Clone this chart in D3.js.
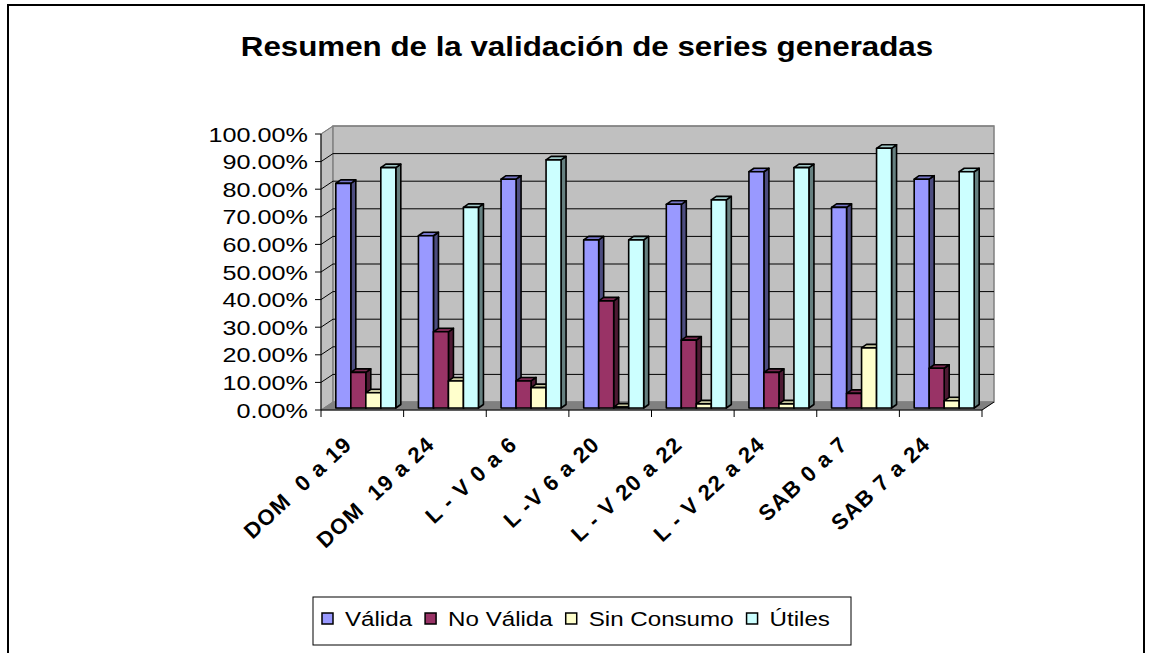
<!DOCTYPE html>
<html>
<head>
<meta charset="utf-8">
<script src="https://cdn.jsdelivr.net/npm/d3@7"></script>
<style>
  body { margin: 0; background: #fff; }
  text { font-family: "Liberation Sans", Arial, sans-serif; fill: #000; }
</style>
</head>
<body>
<svg id="drawarea" width="1153" height="653"></svg>
<script>
var categories = ["DOM  0 a 19", "DOM  19 a 24", "L - V 0 a 6", "L -V 6 a 20", "L - V 20 a 22", "L - V 22 a 24", "SAB 0 a 7", "SAB 7 a 24"];
var series = ["Válida", "No Válida", "Sin Consumo", "Útiles"];

// valores en %
var valida      = [81.4, 62.4, 82.9, 60.9, 73.8, 85.6, 72.7, 82.9];
var noValida    = [12.9, 27.6,  9.8, 38.8, 24.6, 12.9,  5.3, 14.4];
var sinConsumo  = [ 5.5,  9.8,  7.4,  0.3,  1.5,  1.5, 21.8,  2.6];
var utiles      = [87.1, 72.7, 89.9, 60.9, 75.4, 87.1, 94.1, 85.6];

var yTicks = [0, 10, 20, 30, 40, 50, 60, 70, 80, 90, 100];

var values = [valida, noValida, sinConsumo, utiles];
var fronts = ["#9999FF", "#993366", "#FFFFCC", "#CCFFFF"];
var tops   = ["#7575C8", "#7A2850", "#C8C8A0", "#A0C8C8"];
var sides  = ["#4D4D80", "#4D1A33", "#808066", "#668080"];

var svg = d3.select("#drawarea");
var sx = 1.2; // texto estirado

// marco
svg.append("rect").attr("x", 8).attr("y", 5).attr("width", 1136).attr("height", 700)
    .attr("fill", "none").attr("stroke", "#000").attr("stroke-width", 2);

// titulo
svg.append("text")
    .attr("transform", "translate(587,56) scale(1.16,1)")
    .attr("text-anchor", "middle")
    .style("font-size", "27px").style("font-weight", "bold")
    .text("Resumen de la validación de series generadas");

var x0 = d3.scaleBand().domain(categories).range([321, 982]);
var x1 = d3.scaleBand().domain(series).range([0, 60]);
var y = d3.scaleLinear().domain([0, 100]).range([410, 134]);
var D = {dx: 12, dy: -8};

var pLeft = 321, pRight = 982, pBottom = y(0), pTop = y(100);

// paredes
svg.append("polygon")
    .attr("points", [[pLeft, pBottom], [pLeft, pTop], [pLeft + D.dx, pTop + D.dy], [pLeft + D.dx, pBottom + D.dy]].join(" "))
    .attr("fill", "#C0C0C0").attr("stroke", "#808080");
svg.append("polygon")
    .attr("points", [[pLeft + D.dx, pTop + D.dy], [pRight + D.dx, pTop + D.dy], [pRight + D.dx, pBottom + D.dy], [pLeft + D.dx, pBottom + D.dy]].join(" "))
    .attr("fill", "#C0C0C0").attr("stroke", "#808080").attr("stroke-width", 1.5);
svg.append("polygon")
    .attr("points", [[pLeft, pBottom], [pRight, pBottom], [pRight + D.dx, pBottom + D.dy], [pLeft + D.dx, pBottom + D.dy]].join(" "))
    .attr("fill", "#808080").attr("stroke", "#808080");

// lineas de division
yTicks.forEach(function(t){
    if (t === 0) return;
    var yy = y(t);
    svg.append("polyline")
        .attr("points", [[pLeft, yy], [pLeft + D.dx, yy + D.dy], [pRight + D.dx, yy + D.dy]].join(" "))
        .attr("fill", "none").attr("stroke", t === 100 ? "#808080" : "#000").attr("stroke-width", 1);
});

// barras
var bar = {dx: 5, dy: -3.5};
var off = {dx: 3.5, dy: -2};
categories.forEach(function(c, ci){
    var pad = (x0.bandwidth() - 60) / 2;
    series.forEach(function(s, si){
        var v = values[si][ci];
        var xa = x0(c) + pad + x1(s) + off.dx;
        var xb = xa + x1.bandwidth();
        var yb = y(0) + off.dy;
        var yt = y(v) + off.dy;
        var g = svg.append("g").attr("stroke", "#000").attr("stroke-width", 1.6).attr("stroke-linejoin", "round");
        g.append("polygon")
            .attr("points", [[xb, yb], [xb, yt], [xb + bar.dx, yt + bar.dy], [xb + bar.dx, yb + bar.dy]].join(" "))
            .attr("fill", sides[si]);
        g.append("polygon")
            .attr("points", [[xa, yt], [xb, yt], [xb + bar.dx, yt + bar.dy], [xa + bar.dx, yt + bar.dy]].join(" "))
            .attr("fill", tops[si]);
        g.append("rect")
            .attr("x", xa).attr("y", yt).attr("width", xb - xa).attr("height", Math.max(0, yb - yt))
            .attr("fill", fronts[si]);
    });
});

// eje y
svg.append("line").attr("x1", pLeft).attr("x2", pLeft).attr("y1", pTop).attr("y2", pBottom)
    .attr("stroke", "#000");
var fmt = d3.format(".2f");
yTicks.forEach(function(t){
    svg.append("line").attr("x1", pLeft - 6).attr("x2", pLeft).attr("y1", y(t)).attr("y2", y(t))
        .attr("stroke", "#000");
    svg.append("text")
        .attr("transform", "translate(" + (pLeft - 13) + "," + (y(t) + 7.5) + ") scale(" + sx + ",1)")
        .attr("text-anchor", "end")
        .style("font-size", "21px")
        .text(fmt(t) + "%");
});

// eje x
svg.append("line").attr("x1", pLeft).attr("x2", pRight).attr("y1", pBottom).attr("y2", pBottom)
    .attr("stroke", "#000");
svg.append("line").attr("x1", pRight).attr("x2", pRight + D.dx).attr("y1", pBottom).attr("y2", pBottom + D.dy)
    .attr("stroke", "#000");
var edges = categories.map(function(c){ return x0(c); }).concat([pRight]);
edges.forEach(function(e){
    svg.append("line").attr("x1", e).attr("x2", e).attr("y1", pBottom).attr("y2", pBottom + 7)
        .attr("stroke", "#000");
});
categories.forEach(function(c){
    var cx = x0(c) + x0.bandwidth() / 2;
    svg.append("text")
        .attr("transform", "translate(" + (cx - 9) + ",446) rotate(-43)")
        .attr("text-anchor", "end")
        .style("font-size", "22px").style("font-weight", "bold")
        .style("letter-spacing", "1.2px")
        .style("white-space", "pre")
        .text(c);
});

// leyenda
svg.append("rect").attr("x", 313).attr("y", 597).attr("width", 538).attr("height", 48)
    .attr("fill", "#fff").attr("stroke", "#000").attr("stroke-width", 1);
var lx = 322;
series.forEach(function(s, si){
    svg.append("rect").attr("x", lx).attr("y", 613).attr("width", 11).attr("height", 11)
        .attr("fill", fronts[si]).attr("stroke", "#000").attr("stroke-width", 1.5);
    var t = svg.append("text")
        .attr("transform", "translate(" + (lx + 23) + ",626) scale(1.15,1)")
        .style("font-size", "21px")
        .text(s);
    lx = lx + 23 + t.node().getComputedTextLength() * 1.15 + 13;
});
</script>
</body>
</html>
